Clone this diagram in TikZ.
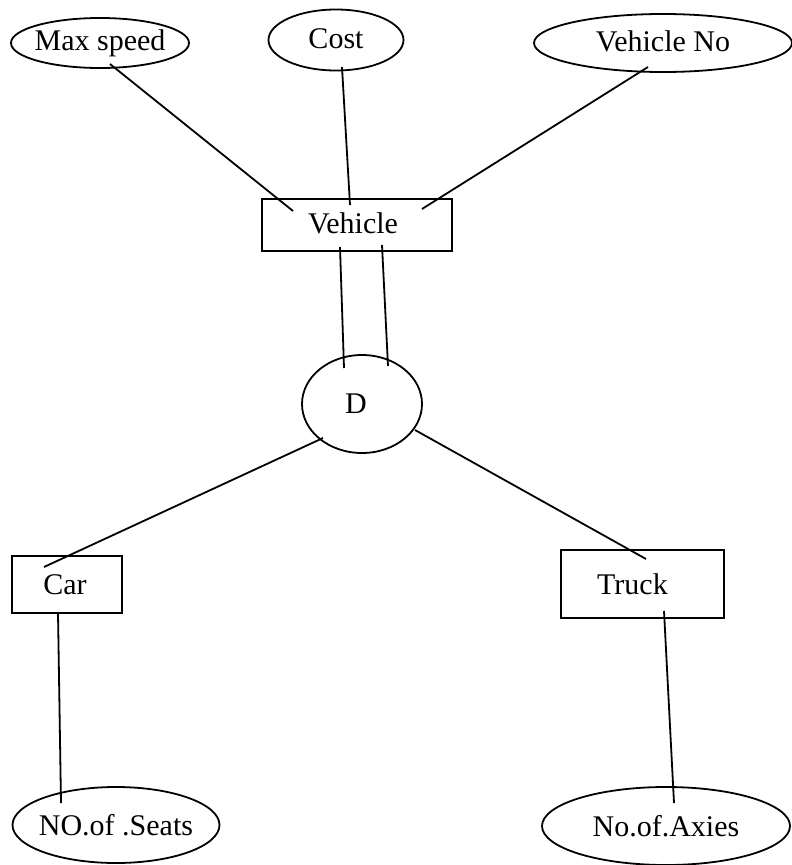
\documentclass[tikz,border=0pt]{standalone}
\usepackage{fontspec}
\setmainfont{Liberation Serif}
\usetikzlibrary{shapes.geometric}
\begin{document}
\begin{tikzpicture}[x=1pt,y=-1pt,
  every node/.style={inner sep=0pt,font=\fontsize{30}{35}\selectfont},
  attr/.style={draw,ellipse,line width=1.8pt,inner xsep=-12pt,inner ysep=-6pt},
  ent/.style={draw,rectangle,line width=1.8pt},
  link/.style={line width=1.8pt}]
\useasboundingbox (0,0) rectangle (792,865);
\clip (0,0) rectangle (792,865);

% attributes of the supertype
\node[attr,minimum width=178,minimum height=50] (ms) at (100,43) {\raisebox{3pt}{Max speed}};
\node[attr,minimum width=135,minimum height=61] (cost) at (336,40) {\raisebox{3pt}{Cost}};
\node[attr,minimum width=258,minimum height=58] (vno) at (663,43) {\raisebox{4pt}{Vehicle No}};

% entities
\node[ent,minimum width=190,minimum height=52] (veh) at (357,225) {\raisebox{4pt}{Vehicle}\hspace*{8pt}};
\node[attr,minimum width=120,minimum height=98] (d) at (362,404) {D\hspace*{12pt}};
\node[ent,minimum width=110,minimum height=57] (car) at (67,584.5) {Car\hspace*{4pt}};
\node[ent,minimum width=163,minimum height=68] (truck) at (642.5,584) {Truck\hspace*{20pt}};

% attributes of the subtypes
\node[attr,minimum width=207,minimum height=76] (seats) at (116,825) {NO.of .Seats};
\node[attr,minimum width=248,minimum height=78] (axies) at (666,826) {No.of.Axies};

% connectors
\draw[link] ([shift={(10,21)}]ms.center) -- ([shift={(-64,-14)}]veh.center);
\draw[link] ([shift={(6,27)}]cost.center) -- ([shift={(-7,-20)}]veh.center);
\draw[link] ([shift={(-15,24)}]vno.center) -- ([shift={(65,-16)}]veh.center);

\draw[link] ([shift={(-17,22)}]veh.center) -- ([shift={(-18,-36)}]d.center);
\draw[link] ([shift={(25,20)}]veh.center) -- ([shift={(26,-38)}]d.center);

\draw[link] ([shift={(-39,34)}]d.center) -- ([shift={(-23,-17.5)}]car.center);
\draw[link] ([shift={(53,26)}]d.center) -- ([shift={(3.5,-25)}]truck.center);

\draw[link] ([shift={(-9,28.5)}]car.center) -- ([shift={(-55,-22)}]seats.center);
\draw[link] ([shift={(21.5,27)}]truck.center) -- ([shift={(8,-23)}]axies.center);
\end{tikzpicture}
\end{document}
